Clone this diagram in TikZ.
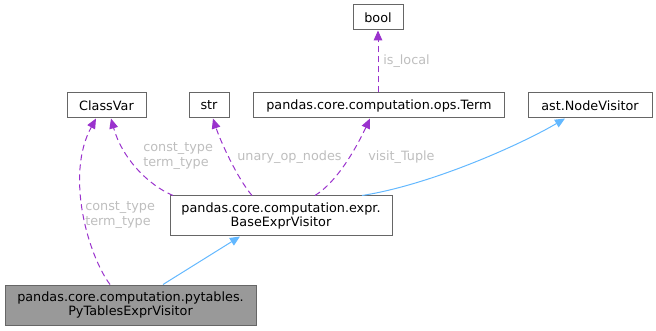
\documentclass[tikz,border=0pt]{standalone}
\usepackage{fontspec}
\setmainfont{DejaVu Sans}
\usetikzlibrary{arrows.meta}
\definecolor{edgeblue}{HTML}{63B8FF}
\definecolor{edgepurple}{HTML}{9A32CD}
\definecolor{labelgray}{HTML}{BEBEBE}
\definecolor{boxline}{HTML}{666666}
\definecolor{boxfill}{HTML}{999999}
\begin{document}
\begin{tikzpicture}[x=0.75pt,y=-0.75pt,
  font=\fontsize{9.6pt}{10.6pt}\selectfont,
  classbox/.style={draw=boxline,fill=white,line width=0.75pt,inner sep=0pt,align=center},
  usage/.style={draw=edgepurple,dashed,dash pattern=on 4.5pt off 3pt,line width=0.75pt,
    -{Triangle[length=7.5pt,width=6.5pt]},color=edgepurple},
  inherit/.style={draw=edgeblue,line width=0.75pt,-{Triangle[length=7.5pt,width=6.5pt]},color=edgeblue},
  elabel/.style={text=labelgray,align=left,inner sep=0pt,anchor=west}]
\useasboundingbox (0,0) rectangle (656,331);

% class boxes
\node[classbox,minimum width=37.5pt,minimum height=18.75pt] (bool) at (378,17.5) {bool};
\node[classbox,minimum width=59.25pt,minimum height=18.75pt] (classvar) at (106.5,105.5) {ClassVar};
\node[classbox,minimum width=30pt,minimum height=18.75pt] (str) at (209,105.5) {str};
\node[classbox,minimum width=188.25pt,minimum height=18.75pt] (term) at (379,105.5) {pandas.core.computation.ops.Term};
\node[classbox,minimum width=93pt,minimum height=18.75pt] (nodevisitor) at (590,105.5) {ast.NodeVisitor};
\node[classbox,minimum width=166.5pt,minimum height=30pt] (base) at (281,216) {pandas.core.computation.expr.\\BaseExprVisitor};
\node[classbox,fill=boxfill,minimum width=188.25pt,minimum height=30pt] (pytables) at (130.5,305) {pandas.core.computation.pytables.\\PyTablesExprVisitor};

% member usage (dashed) relations
\draw[usage] (pytables.north -| 110,0) .. controls (88,255) and (65,175) .. (classvar.south -| 96,0);
\draw[usage] (base.north -| 173,0) .. controls (148,185) and (122,158) .. (classvar.south -| 111,0);
\draw[usage] (base.north -| 252,0) .. controls (237,178) and (220,140) .. (str.south -| 213,0);
\draw[usage] (base.north -| 315,0) .. controls (340,180) and (360,140) .. (term.south -| 370,0);
\draw[usage] (term.north -| 378,0) -- (bool.south -| 378,0);

% inheritance relations
\draw[inherit] (base.north -| 362,0) .. controls (430,185) and (520,145) .. (nodevisitor.south -| 565,0);
\draw[inherit] (pytables.north -| 163,0) -- (base.south -| 240,0);

% edge labels
\node[elabel] (l1) at (85,215) {const\_type\\term\_type};
\node[elabel] (l2) at (143,156) {const\_type\\term\_type};
\node[elabel] (l3) at (237,157) {unary\_op\_nodes};
\node[elabel] (l4) at (368,157) {visit\_Tuple};
\node[elabel] (l5) at (383,61) {is\_local};
\end{tikzpicture}
\end{document}
